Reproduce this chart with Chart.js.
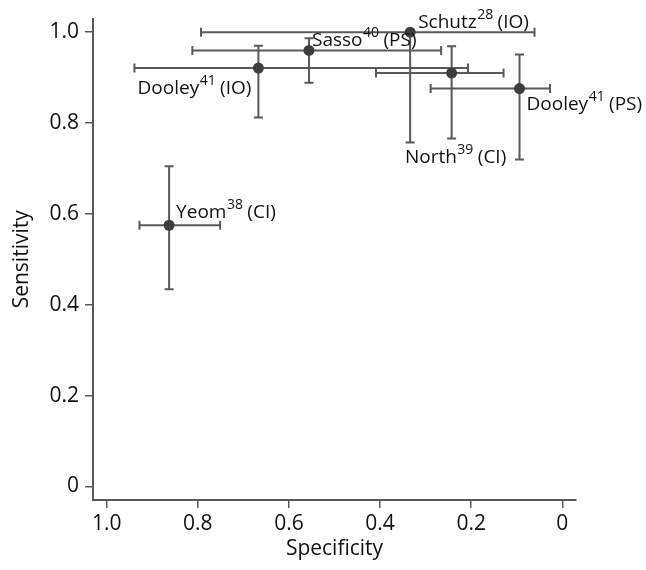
<!DOCTYPE html>
<html>
<head>
<meta charset="utf-8">
<script src="https://cdn.jsdelivr.net/npm/chart.js@4/dist/chart.umd.min.js"></script>
<style>
  html, body { margin: 0; padding: 0; background: #fff; }
  #wrap { width: 646px; height: 570px; }
</style>
</head>
<body>
<div id="wrap"><canvas id="rocChart" width="646" height="570"></canvas></div>
<script>
// Study labels
const studyNames = ['Yeom', 'Schutz', 'Sasso', 'Dooley', 'North', 'Dooley'];
const studyRefs = ['38', '28', '40', '41', '39', '41'];
const studyTypes = ['CI', 'IO', 'PS', 'IO', 'CI', 'PS'];

// Point estimates and 95% CIs
const specificity = [0.863, 0.334, 0.556, 0.667, 0.243, 0.094];
const specLower = [0.751, 0.061, 0.266, 0.207, 0.129, 0.027];
const specUpper = [0.928, 0.793, 0.812, 0.939, 0.409, 0.289];
const sensitivity = [0.575, 1.0, 0.960, 0.921, 0.910, 0.876];
const sensLower = [0.434, 0.757, 0.889, 0.812, 0.766, 0.720];
const sensUpper = [0.705, 1.0, 0.987, 0.970, 0.969, 0.951];

// Axis ticks
const tickValues = [0, 0.2, 0.4, 0.6, 0.8, 1.0];

// Where each marker label sits relative to its point (pixels, baseline)
const labelPlacement = [
    { dx: 7, dy: -7, align: 'left' },
    { dx: 8, dy: -4, align: 'left' },
    { dx: 3, dy: -4, align: 'left' },
    { dx: -7, dy: 26, align: 'right' },
    { dx: 4, dy: 90, align: 'center' },
    { dx: 7, dy: 21, align: 'left' }
];

const FONT = '"Open Sans", "DejaVu Sans", sans-serif';
const LINE_COLOR = '#595959';

// Error bars in both directions, drawn under the points
const errorBarPlugin = {
    id: 'errorBars',
    beforeDatasetsDraw(chart) {
        const { ctx, scales: { x, y } } = chart;
        const cap = 4.5;
        ctx.save();
        ctx.strokeStyle = LINE_COLOR;
        ctx.lineWidth = 2;
        specificity.forEach((sp, i) => {
            const px = x.getPixelForValue(sp);
            const py = y.getPixelForValue(sensitivity[i]);
            const xl = x.getPixelForValue(specUpper[i]);
            const xr = x.getPixelForValue(specLower[i]);
            const yt = y.getPixelForValue(sensUpper[i]);
            const yb = y.getPixelForValue(sensLower[i]);

            ctx.beginPath();
            // horizontal bar + caps
            ctx.moveTo(xl, py); ctx.lineTo(xr, py);
            ctx.moveTo(xl, py - cap); ctx.lineTo(xl, py + cap);
            ctx.moveTo(xr, py - cap); ctx.lineTo(xr, py + cap);
            // vertical bar + caps (no cap when the CI touches 1.0)
            ctx.moveTo(px, yt); ctx.lineTo(px, yb);
            if (sensUpper[i] < 1) { ctx.moveTo(px - cap, yt); ctx.lineTo(px + cap, yt); }
            ctx.moveTo(px - cap, yb); ctx.lineTo(px + cap, yb);
            ctx.stroke();
        });
        ctx.restore();
    }
};

// Marker labels with superscript reference numbers
const studyLabelPlugin = {
    id: 'studyLabels',
    afterDatasetsDraw(chart) {
        const { ctx, scales: { x, y } } = chart;
        const mainFont = '19px ' + FONT;
        const supFont = '14px ' + FONT;
        ctx.save();
        ctx.fillStyle = '#111';
        ctx.textBaseline = 'alphabetic';
        ctx.textAlign = 'left';
        studyNames.forEach((name, i) => {
            const px = x.getPixelForValue(specificity[i]);
            const py = y.getPixelForValue(sensitivity[i]);
            const place = labelPlacement[i];
            const tail = ' (' + studyTypes[i] + ')';

            ctx.font = mainFont;
            const wName = ctx.measureText(name).width;
            const wTail = ctx.measureText(tail).width;
            ctx.font = supFont;
            const wSup = ctx.measureText(studyRefs[i]).width;
            const total = wName + wSup + wTail;

            let startX = px + place.dx;
            if (place.align === 'right') startX -= total;
            if (place.align === 'center') startX -= total / 2;
            const baseY = py + place.dy;

            ctx.font = mainFont;
            ctx.fillText(name, startX, baseY);
            ctx.font = supFont;
            ctx.fillText(studyRefs[i], startX + wName + 0.5, baseY - 9);
            ctx.font = mainFont;
            ctx.fillText(tail, startX + wName + wSup, baseY);
        });
        ctx.restore();
    }
};

function setTicks(scale) {
    scale.ticks = tickValues.map(v => ({ value: v }));
}

function formatTick(value) {
    return value === 0 ? '0' : value.toFixed(1);
}

const ctx = document.getElementById('rocChart');

new Chart(ctx, {
    type: 'scatter',
    data: {
        datasets: [{
            data: specificity.map((sp, i) => ({ x: sp, y: sensitivity[i] })),
            backgroundColor: '#3d3d3d',
            borderWidth: 0,
            pointRadius: 5.5,
            pointHoverRadius: 5.5
        }]
    },
    options: {
        responsive: false,
        animation: false,
        devicePixelRatio: 1,
        layout: { padding: { top: 18, right: 70, left: 0, bottom: 0 } },
        plugins: {
            legend: { display: false },
            tooltip: { enabled: false }
        },
        scales: {
            x: {
                type: 'linear',
                reverse: true,
                min: -0.03,
                max: 1.03,
                afterBuildTicks: setTicks,
                afterFit: (scale) => { scale.height = 70; },
                border: { display: true, color: LINE_COLOR, width: 2 },
                grid: { display: true, drawOnChartArea: false, drawTicks: true, tickLength: 8, tickColor: LINE_COLOR, lineWidth: 1.5 },
                ticks: {
                    callback: formatTick,
                    color: '#111',
                    padding: 3,
                    maxRotation: 0,
                    font: { family: FONT, size: 21 }
                },
                title: {
                    display: true,
                    text: 'Specificity',
                    color: '#111',
                    padding: { top: 0, bottom: 8 },
                    font: { family: FONT, size: 21 }
                }
            },
            y: {
                type: 'linear',
                min: -0.03,
                max: 1.03,
                afterBuildTicks: setTicks,
                afterFit: (scale) => { scale.width = 93; },
                border: { display: true, color: LINE_COLOR, width: 2 },
                grid: { display: true, drawOnChartArea: false, drawTicks: true, tickLength: 8, tickColor: LINE_COLOR, lineWidth: 1.5 },
                ticks: {
                    callback: formatTick,
                    color: '#111',
                    padding: 6,
                    font: { family: FONT, size: 21 }
                },
                title: {
                    display: true,
                    text: 'Sensitivity',
                    color: '#111',
                    padding: { top: 9, bottom: 0 },
                    font: { family: FONT, size: 21 }
                }
            }
        }
    },
    plugins: [errorBarPlugin, studyLabelPlugin]
});
</script>
</body>
</html>
